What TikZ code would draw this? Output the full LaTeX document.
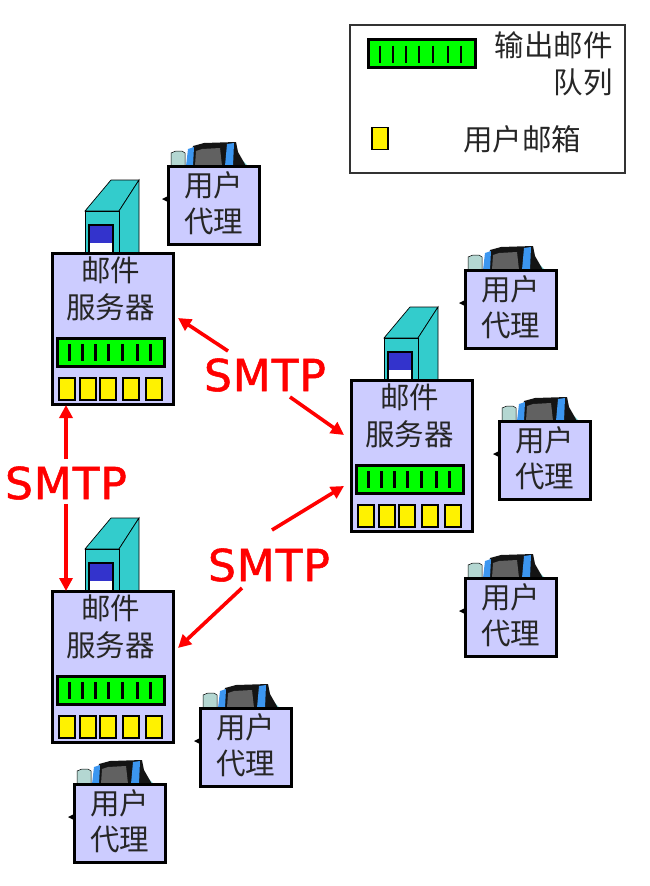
\documentclass[tikz,border=0pt]{standalone}
\usepackage{fontspec}
\setmainfont{DejaVu Sans}
\newfontfamily\cjk{Noto Sans CJK SC}
\newfontfamily\smtpfont[FakeBold=1.2,LetterSpace=2]{DejaVu Sans}
\usetikzlibrary{arrows.meta}
\definecolor{boxlav}{RGB}{204,204,255}
\definecolor{towerteal}{RGB}{51,204,204}
\definecolor{towerblue}{RGB}{51,51,204}
\definecolor{lapblue}{RGB}{60,150,240}
\definecolor{lapgrey}{RGB}{180,215,210}
\tikzset{x=1pt, y=1pt,
cntext/.style={ % Chinese labels
font=\cjk\fontsize{29.5}{36.5}\selectfont, align=center, inner sep=0pt, text=black!85},
agentbox/.style={draw, line width=3pt, fill=boxlav, anchor=north west, outer sep=0pt,
inner sep=0pt, minimum width=91pt, minimum height=78pt},
srvbox/.style={draw, line width=3pt, fill=boxlav, anchor=north west, outer sep=0pt,
inner sep=0pt, minimum width=121pt, minimum height=151pt},
queuebox/.style={draw, line width=3pt, fill=green, anchor=north west, outer sep=0pt,
inner sep=0pt, minimum width=107pt, minimum height=28pt},
mailbox/.style={draw, line width=1.2pt, fill=yellow, anchor=north west, outer sep=0pt,
inner sep=0pt, minimum width=16pt, minimum height=22pt},
smtplabel/.style={font=\smtpfont\fontsize{44}{48}\selectfont, text=red, inner sep=0pt},
smtptip/.style={draw=red, line width=3.6pt, -{Triangle[length=13pt,width=13pt]}},
queue ticks/.pic={
\foreach \tx in {12,25,38,51,65,80,93}
  \draw[line width=2.8pt] (\tx,-6) -- (\tx,-23);
},
user agent/.pic={
  % laptop behind the box
  \draw[fill=lapgrey, line width=0.5pt] (3,0) -- (3,13) -- (8,15) -- (14,15) -- (17,13) -- (17,0) -- cycle;
  \fill[towerteal!60] (66,0) -- (70,10) -- (80,0) -- cycle;
  \fill[black!92] (22,0) -- (25,20) -- (36,23) -- (68,24) -- (70,14) -- (78,0) -- cycle;
  \fill[black!62] (27,0) -- (28,15) -- (34,17) -- (52,18) -- (54,0) -- cycle;
  \fill[lapblue] (18,0) -- (20,17) -- (26,19) -- (25,0) -- cycle;
  \fill[lapblue] (57,0) -- (59,22) -- (66,23) -- (65,0) -- cycle;
  \node[agentbox] (-box) at (0,0) {};
  \fill (-box.north west) ++(0,-30) -- ++(-6,-3) -- ++(6,-3) -- cycle;
  \node[cntext] (-lbl) at (45.5,-37) {用户\\代理};
},
mail server/.pic={
  % tower behind the box
  \draw[fill=towerteal, line width=0.7pt] (33,42) -- (59,73) -- (87,73) -- (67,42) -- cycle;
  \draw[fill=towerteal, line width=0.7pt] (67,42) -- (87,73) -- (87,0) -- (67,0) -- cycle;
  \draw[fill=towerteal, line width=1pt] (33,42) rectangle (67,0);
  \draw[fill=towerblue, line width=1.5pt] (37,28) rectangle (61,0);
  \fill[white] (38,10) rectangle (60,0);
  \node[srvbox] (-box) at (0,0) {};
  \node[cntext] (-lbl) at (58.5,-36) {邮件\\服务器};
  \node[queuebox] (-queue) at (5.5,-85) {};
  \pic at (5.5,-85) {queue ticks};
  \foreach \bx/\bn in {7/a,28/b,48/c,71/d,94/e}
    \node[mailbox] (-mail\bn) at (\bx,-125) {};
}}
\begin{document}
\begin{tikzpicture}
\useasboundingbox (0,0) rectangle (650,-886);
% legend
\node[draw=black!80, line width=1.5pt, anchor=north west, inner sep=0pt,
  minimum width=275pt, minimum height=148pt] (legend) at (349,-24) {};
\node[queuebox] (legendqueue) at (368,-39.5) {};
\pic at (368,-39.5) {queue ticks};
\node[mailbox] (legendmail) at (372,-127.5) {};
\node[cntext, anchor=east] (legendout) at (613,-45) {输出邮件};
\node[cntext, anchor=east] (legendq) at (613,-82) {队列};
\node[cntext, anchor=west] (legendbox) at (463,-139) {用户邮箱};
% servers
\pic (srvA) at (52,-253) {mail server};
\pic (srvB) at (351,-380) {mail server};
\pic (srvC) at (52,-591) {mail server};
% user agents
\pic (uaA) at (168,-166) {user agent};
\pic (uaB) at (465,-270) {user agent};
\pic (uaC) at (499,-421) {user agent};
\pic (uaD) at (465,-578) {user agent};
\pic (uaE) at (200,-708) {user agent};
\pic (uaF) at (74,-784) {user agent};
% SMTP labels and arrows
\node[smtplabel] (smtpT) at (265,-375) {SMTP};
\node[smtplabel] (smtpL) at (66,-483) {SMTP};
\node[smtplabel] (smtpM) at (269,-565) {SMTP};
\draw[smtptip] ([shift={(-37,24)}]smtpT.center) -- ([shift={(5,10.5)}]srvA-box.east);
\draw[smtptip] ([shift={(25,-22)}]smtpT.center) -- ([shift={(-7,20.5)}]srvB-box.west);
\draw[smtptip] ([shift={(0,24)}]smtpL.center) -- ([yshift=-1pt]srvA-box.south -| smtpL.center);
\draw[smtptip] ([shift={(0,-21)}]smtpL.center) -- ([yshift=0pt]srvC-box.north -| smtpL.center);
\draw[smtptip] ([shift={(-27,-23)}]smtpM.center) -- ([shift={(5,18.5)}]srvC-box.east);
\draw[smtptip] ([shift={(3,35)}]smtpM.center) -- ([shift={(-7,-30.5)}]srvB-box.west);
\end{tikzpicture}
\end{document}
